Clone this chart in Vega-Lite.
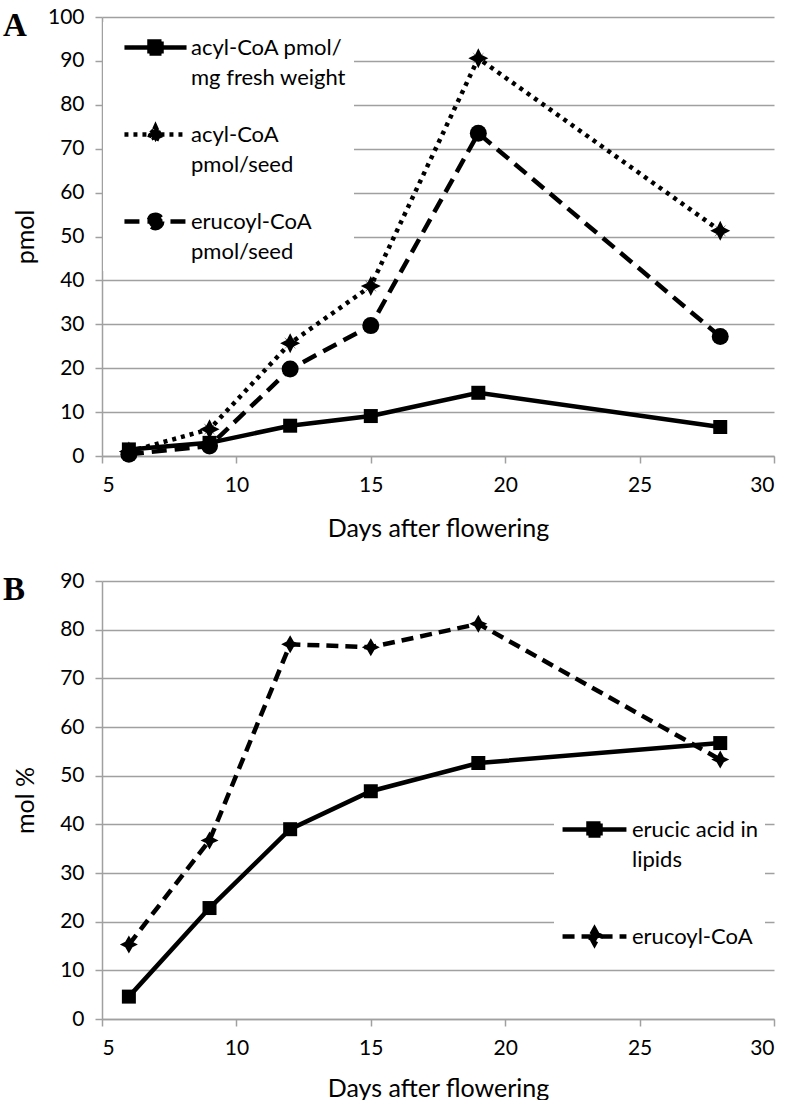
{
  "$schema": "https://vega.github.io/schema/vega-lite/v6.json",
  "background": "white",
  "padding": {"left": 3, "top": 6, "right": 10, "bottom": 4},
  "bounds": "flush",
  "spacing": 125,
  "resolve": {"scale": {"strokeDash": "independent", "shape": "independent"}, "legend": {"strokeDash": "independent", "shape": "independent"}},
  "config": {
    "font": "Lato",
    "view": {"stroke": null},
    "style": {"guide-label": {"lineHeight": 30}},
    "axis": {
      "domainColor": "#a0a0a0", "domainWidth": 1.5,
      "tickColor": "#a0a0a0", "tickWidth": 1.5, "tickSize": 7,
      "gridColor": "#a0a0a0", "gridWidth": 1.5,
      "labelFont": "Lato", "labelFontSize": 21, "labelColor": "#000",
      "titleFont": "Lato", "titleFontSize": 25, "titleFontWeight": "normal", "titleColor": "#000"
    },
    "legend": {
      "labelFont": "Lato", "labelFontSize": 22, "labelColor": "#000", "labelLimit": 400,
      "fillColor": "white", "strokeColor": null, "title": null,
      "symbolOpacity": 1, "symbolStrokeWidth": 4.5, "symbolSize": 900
    }
  },
  "datasets": {
    "a": [
      {"series": "acyl-CoA pmol/mg fresh weight", "day": 6, "value": 1.5},
      {"series": "acyl-CoA pmol/mg fresh weight", "day": 9, "value": 3.0},
      {"series": "acyl-CoA pmol/mg fresh weight", "day": 12, "value": 6.9},
      {"series": "acyl-CoA pmol/mg fresh weight", "day": 15, "value": 9.1},
      {"series": "acyl-CoA pmol/mg fresh weight", "day": 19, "value": 14.4},
      {"series": "acyl-CoA pmol/mg fresh weight", "day": 28, "value": 6.6},
      {"series": "acyl-CoA pmol/seed", "day": 6, "value": 1.0},
      {"series": "acyl-CoA pmol/seed", "day": 9, "value": 6.1},
      {"series": "acyl-CoA pmol/seed", "day": 12, "value": 25.7},
      {"series": "acyl-CoA pmol/seed", "day": 15, "value": 38.7},
      {"series": "acyl-CoA pmol/seed", "day": 19, "value": 90.6},
      {"series": "acyl-CoA pmol/seed", "day": 28, "value": 51.3},
      {"series": "erucoyl-CoA pmol/seed", "day": 6, "value": 0.4},
      {"series": "erucoyl-CoA pmol/seed", "day": 9, "value": 2.3},
      {"series": "erucoyl-CoA pmol/seed", "day": 12, "value": 19.8},
      {"series": "erucoyl-CoA pmol/seed", "day": 15, "value": 29.7},
      {"series": "erucoyl-CoA pmol/seed", "day": 19, "value": 73.5},
      {"series": "erucoyl-CoA pmol/seed", "day": 28, "value": 27.2}
    ],
    "b": [
      {"series": "erucic acid in lipids", "day": 6, "value": 4.6},
      {"series": "erucic acid in lipids", "day": 9, "value": 22.8},
      {"series": "erucic acid in lipids", "day": 12, "value": 39.0},
      {"series": "erucic acid in lipids", "day": 15, "value": 46.8},
      {"series": "erucic acid in lipids", "day": 19, "value": 52.6},
      {"series": "erucic acid in lipids", "day": 28, "value": 56.7},
      {"series": "erucoyl-CoA", "day": 6, "value": 15.3},
      {"series": "erucoyl-CoA", "day": 9, "value": 36.7},
      {"series": "erucoyl-CoA", "day": 12, "value": 77.0},
      {"series": "erucoyl-CoA", "day": 15, "value": 76.4},
      {"series": "erucoyl-CoA", "day": 19, "value": 81.2},
      {"series": "erucoyl-CoA", "day": 28, "value": 53.3}
    ]
  },
  "vconcat": [
    {
      "width": 672,
      "height": 439,
      "data": {"name": "a"},
      "title": {"text": "A", "anchor": "start", "frame": "group", "font": "Liberation Serif", "fontSize": 33, "fontWeight": "bold", "color": "#000", "dx": -99, "dy": 37, "offset": 0},
      "encoding": {
        "x": {"field": "day", "type": "quantitative", "scale": {"domain": [5, 30], "nice": false, "zero": false},
          "axis": {"values": [5, 10, 15, 20, 25, 30], "title": "Days after flowering", "grid": false, "labelPadding": 11, "titleY": 72, "titleBaseline": "middle"}},
        "y": {"field": "value", "type": "quantitative", "scale": {"domain": [0, 100], "nice": false},
          "axis": {"values": [0, 10, 20, 30, 40, 50, 60, 70, 80, 90, 100], "title": "pmol", "grid": true, "labelPadding": 11, "titleX": -77, "titleBaseline": "middle"}}
      },
      "layer": [
        {
          "transform": [{"filter": "false"}],
          "mark": {"type": "point", "filled": false, "color": "black", "fill": "black", "stroke": "black", "strokeWidth": 4.5, "opacity": 1},
          "encoding": {
            "shape": {"field": "series", "type": "nominal",
              "scale": {"domain": ["acyl-CoA pmol/mg fresh weight", "acyl-CoA pmol/seed", "erucoyl-CoA pmol/seed"],
                "range": [
                  "M-2.07,0L2.07,0M-0.4,-0.4L0.4,-0.4L0.4,0.4L-0.4,0.4Z",
                  "M-2.07,0L2.07,0M0,-0.52L0.15,-0.18L0.29,-0.29L0.18,-0.15L0.52,0L0.18,0.15L0.29,0.29L0.15,0.18L0,0.52L-0.15,0.18L-0.29,0.29L-0.18,0.15L-0.52,0L-0.18,-0.15L-0.29,-0.29L-0.15,-0.18Z",
                  "M-2.07,0L2.07,0M0.45,0A0.45,0.45,0,1,1,-0.45,0A0.45,0.45,0,1,1,0.45,0Z"
                ]},
              "legend": {
                "orient": "none", "legendX": 1, "legendY": 5, "padding": 8, "symbolOffset": 27, "labelOffset": 18, "rowPadding": 28,
                "labelExpr": "datum.label == 'acyl-CoA pmol/mg fresh weight' ? ['acyl-CoA pmol/', 'mg fresh weight'] : datum.label == 'acyl-CoA pmol/seed' ? ['acyl-CoA', 'pmol/seed'] : ['erucoyl-CoA', 'pmol/seed']"
              }
            },
            "strokeDash": {"field": "series", "type": "nominal",
              "scale": {"domain": ["acyl-CoA pmol/mg fresh weight", "acyl-CoA pmol/seed", "erucoyl-CoA pmol/seed"], "range": [[1, 0], [4, 5], [15, 8]]},
              "legend": {
                "orient": "none", "legendX": 1, "legendY": 5, "padding": 8, "symbolOffset": 27, "labelOffset": 18, "rowPadding": 28,
                "labelExpr": "datum.label == 'acyl-CoA pmol/mg fresh weight' ? ['acyl-CoA pmol/', 'mg fresh weight'] : datum.label == 'acyl-CoA pmol/seed' ? ['acyl-CoA', 'pmol/seed'] : ['erucoyl-CoA', 'pmol/seed']"
              }
            }
          }
        },
        {
          "transform": [{"filter": "datum.series == 'acyl-CoA pmol/mg fresh weight'"}],
          "mark": {"type": "line", "strokeWidth": 4.5, "color": "black", "strokeCap": "butt"},
          "encoding": {}
        },
        {
          "transform": [{"filter": "datum.series == 'acyl-CoA pmol/seed'"}],
          "mark": {"type": "line", "strokeWidth": 4.5, "color": "black", "strokeCap": "butt", "strokeDash": [4, 5]},
          "encoding": {}
        },
        {
          "transform": [{"filter": "datum.series == 'erucoyl-CoA pmol/seed'"}],
          "mark": {"type": "line", "strokeWidth": 4.5, "color": "black", "strokeCap": "butt", "strokeDash": [15, 8]},
          "encoding": {}
        },
        {
          "transform": [{"filter": "datum.series == 'acyl-CoA pmol/mg fresh weight'"}],
          "mark": {"type": "point", "shape": "square", "size": 196, "filled": true, "color": "black", "opacity": 1, "strokeWidth": 0}
        },
        {
          "transform": [{"filter": "datum.series == 'acyl-CoA pmol/seed'"}],
          "mark": {"type": "point", "shape": "M0,-1L0.32,-0.36L0.6,-0.6L0.36,-0.32L1,0L0.36,0.32L0.6,0.6L0.32,0.36L0,1L-0.32,0.36L-0.6,0.6L-0.36,0.32L-1,0L-0.36,-0.32L-0.6,-0.6L-0.32,-0.36Z", "size": 400, "filled": true, "color": "black", "opacity": 1, "strokeWidth": 0}
        },
        {
          "transform": [{"filter": "datum.series == 'erucoyl-CoA pmol/seed'"}],
          "mark": {"type": "point", "shape": "circle", "size": 289, "filled": true, "color": "black", "opacity": 1, "strokeWidth": 0}
        }
      ]
    },
    {
      "width": 672,
      "height": 438,
      "data": {"name": "b"},
      "title": {"text": "B", "anchor": "start", "frame": "group", "font": "Liberation Serif", "fontSize": 33, "fontWeight": "bold", "color": "#000", "dx": -99, "dy": 37, "offset": 0},
      "encoding": {
        "x": {"field": "day", "type": "quantitative", "scale": {"domain": [5, 30], "nice": false, "zero": false},
          "axis": {"values": [5, 10, 15, 20, 25, 30], "title": "Days after flowering", "grid": false, "labelPadding": 11, "titleY": 69, "titleBaseline": "middle"}},
        "y": {"field": "value", "type": "quantitative", "scale": {"domain": [0, 90], "nice": false},
          "axis": {"values": [0, 10, 20, 30, 40, 50, 60, 70, 80, 90], "title": "mol %", "grid": true, "labelPadding": 11, "titleX": -77, "titleBaseline": "middle"}}
      },
      "layer": [
        {
          "transform": [{"filter": "false"}],
          "mark": {"type": "point", "filled": false, "color": "black", "fill": "black", "stroke": "black", "strokeWidth": 4.5, "opacity": 1},
          "encoding": {
            "shape": {"field": "series", "type": "nominal",
              "scale": {"domain": ["erucic acid in lipids", "erucoyl-CoA"],
                "range": [
                  "M-2.13,0L2.13,0M-0.4,-0.4L0.4,-0.4L0.4,0.4L-0.4,0.4Z",
                  "M-2.13,0L2.13,0M0,-0.5L0.2,-0.14L0.5,0L0.2,0.14L0,0.5L-0.2,0.14L-0.5,0L-0.2,-0.14Z"
                ]},
              "legend": {
                "orient": "none", "legendX": 452, "legendY": 225, "padding": 6, "symbolOffset": 17, "labelOffset": 20, "rowPadding": 48,
                "labelExpr": "datum.label == 'erucic acid in lipids' ? ['erucic acid in', 'lipids'] : datum.label"
              }
            },
            "strokeDash": {"field": "series", "type": "nominal",
              "scale": {"domain": ["erucic acid in lipids", "erucoyl-CoA"], "range": [[1, 0], [12, 7]]},
              "legend": {
                "orient": "none", "legendX": 452, "legendY": 225, "padding": 6, "symbolOffset": 17, "labelOffset": 20, "rowPadding": 48,
                "labelExpr": "datum.label == 'erucic acid in lipids' ? ['erucic acid in', 'lipids'] : datum.label"
              }
            }
          }
        },
        {
          "transform": [{"filter": "datum.series == 'erucic acid in lipids'"}],
          "mark": {"type": "line", "strokeWidth": 4.5, "color": "black", "strokeCap": "butt"},
          "encoding": {}
        },
        {
          "transform": [{"filter": "datum.series == 'erucoyl-CoA'"}],
          "mark": {"type": "line", "strokeWidth": 4.5, "color": "black", "strokeCap": "butt", "strokeDash": [12, 7]},
          "encoding": {}
        },
        {
          "transform": [{"filter": "datum.series == 'erucic acid in lipids'"}],
          "mark": {"type": "point", "shape": "square", "size": 196, "filled": true, "color": "black", "opacity": 1, "strokeWidth": 0}
        },
        {
          "transform": [{"filter": "datum.series == 'erucoyl-CoA'"}],
          "mark": {"type": "point", "shape": "M0,-1L0.4,-0.3L1,0L0.4,0.3L0,1L-0.4,0.3L-1,0L-0.4,-0.3Z", "size": 324, "filled": true, "color": "black", "opacity": 1, "strokeWidth": 0}
        }
      ]
    }
  ]
}
